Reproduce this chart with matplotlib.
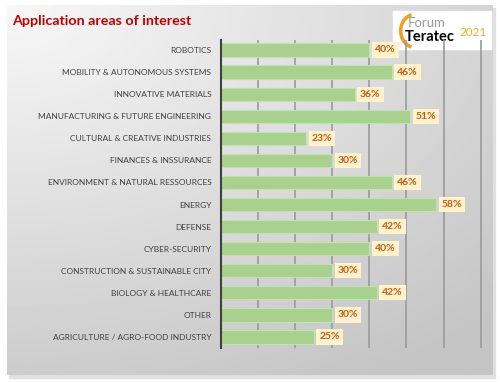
import numpy as np
import matplotlib.pyplot as plt
from matplotlib.patches import Rectangle, Arc

# Données
categories = ['ROBOTICS', 'MOBILITY & AUTONOMOUS SYSTEMS', 'INNOVATIVE MATERIALS',
              'MANUFACTURING & FUTURE ENGINEERING', 'CULTURAL & CREATIVE INDUSTRIES',
              'FINANCES & INSSURANCE', 'ENVIRONMENT & NATURAL RESSOURCES', 'ENERGY',
              'DEFENSE', 'CYBER-SECURITY', 'CONSTRUCTION & SUSTAINABLE CITY',
              'BIOLOGY & HEALTHCARE', 'OTHER', 'AGRICULTURE / AGRO-FOOD INDUSTRY']
values = [40, 46, 36, 51, 23, 30, 46, 58, 42, 40, 30, 42, 30, 25]
title = 'Application areas of interest'

plt.rcParams['font.family'] = ['Lato', 'DejaVu Sans']

fig = plt.figure(figsize=(5, 3.83), dpi=100)
fig.patch.set_facecolor('white')

# ombre + fond dégradé du panneau
fig.patches.append(Rectangle((0.018, 0.012), 0.972, 0.966, transform=fig.transFigure,
                             color='#E0E0E0', zorder=-5))
bg = fig.add_axes([0.014, 0.021, 0.972, 0.966])
xx, yy = np.meshgrid(np.linspace(0, 1, 200), np.linspace(0, 1, 200))
grad = 0.97 - 0.2 * np.clip(np.sqrt((xx * 0.9) ** 2 + (yy * 1.1) ** 2) / 1.3, 0, 1)
bg.imshow(grad, cmap='gray', vmin=0, vmax=1, aspect='auto', extent=[0, 1, 1, 0])
bg.set_xlim(0, 1)
bg.set_ylim(1, 0)
bg.axis('off')

# logo
bg.add_patch(Rectangle((0.795, 0.015), 0.2, 0.105, color='white', zorder=3))
bg.text(0.825, 0.05, 'Forum', fontsize=9.5, color='#9a9a9a', va='center', zorder=4)
bg.text(0.818, 0.087, 'Teratec', fontsize=10.5, color='black', fontweight='bold', va='center', zorder=4)
bg.text(0.932, 0.075, '2021', fontsize=8.5, color='#E8B020', va='center', zorder=4)
bg.add_patch(Arc((0.84, 0.07), 0.06, 0.09, theta1=100, theta2=260, color='#F0A020', lw=2.5, zorder=4))

ax = fig.add_axes([0.442, 0.0914, 0.523, 0.804])
ax.patch.set_alpha(0)
y = np.arange(len(categories))
ax.barh(y, values, height=0.6, color='#A9D18E', edgecolor='#C5E0B4', linewidth=0.8, zorder=2)

for yi, v in zip(y, values):
    ax.annotate(f'{v}%', (v, yi), xytext=(4, 0), textcoords='offset points',
                va='center', ha='left', fontsize=7.5, fontweight='bold', color='#C55A11',
                bbox=dict(boxstyle='square,pad=0.3', fc='#FFF2CC', ec='none'), zorder=3)

ax.set_xlim(0, 70.5)
ax.set_ylim(13.5, -0.45)
ax.set_xticks(np.arange(10, 80, 10))
ax.xaxis.grid(True, color='#9A9A9A', lw=1.2, zorder=0)
ax.tick_params(axis='x', length=0, labelbottom=False)
ax.set_yticks(y)
ax.set_yticklabels(categories, fontsize=6, color='#404040')
ax.tick_params(axis='y', length=0, pad=7)
for s in ['top', 'right', 'bottom']:
    ax.spines[s].set_visible(False)
ax.spines['left'].set_color('#404040')
ax.spines['left'].set_linewidth(1.5)

fig.text(0.024, 0.946, title, fontsize=10.3, fontweight='bold', color='#C00000', va='center')

fig.savefig('out.png', dpi=100)
